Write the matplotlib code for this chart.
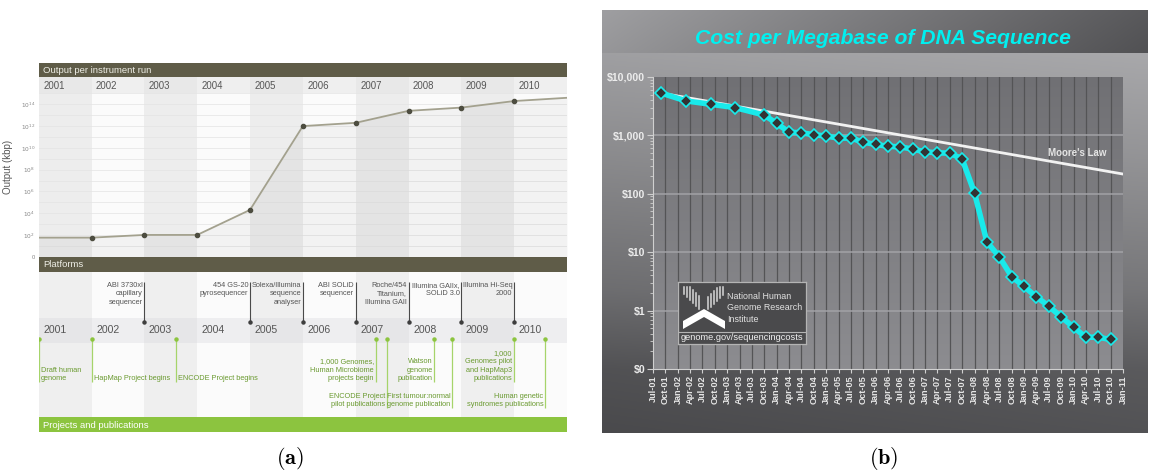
import numpy as np
import pandas as pd
import matplotlib
matplotlib.use("Agg")
import matplotlib.pyplot as plt
from matplotlib.patches import Rectangle, Polygon

plt.rcParams["font.family"] = ["Liberation Sans", "DejaVu Sans"]

W, H = 1150, 473

# ---------------- (a) data ----------------
YEARS = list(range(2001, 2011))
run_years = [2001, 2002, 2003, 2004, 2005, 2006, 2007, 2008, 2009, 2010, 2011]
run_log_kbp = [1.75, 1.75, 2.0, 2.0, 4.3, 12.0, 12.3, 13.4, 13.7, 14.3, 14.6]
marker_years = run_years[1:-1]
marker_log_kbp = run_log_kbp[1:-1]

platform_years = [2003, 2005, 2006, 2007, 2008, 2009, 2010]
platform_labels = [
    "ABI 3730xl\ncapillary\nsequencer",
    "454 GS-20\npyrosequencer",
    "Solexa/Illumina\nsequence\nanalyser",
    "ABI SOLiD\nsequencer",
    "Roche/454\nTitanium,\nIllumina GAII",
    "Illumina GAIIx,\nSOLiD 3.0",
    "Illumina Hi-Seq\n2000",
]

project_years = [2001.0, 2002.0, 2003.6, 2007.38, 2007.59, 2008.49, 2008.83, 2010.0, 2010.59]
project_labels = [
    "Draft human\ngenome",
    "HapMap Project begins",
    "ENCODE Project begins",
    "1,000 Genomes,\nHuman Microbiome\nprojects begin",
    "ENCODE Project\npilot publications",
    "Watson\ngenome\npublication",
    "First tumour:normal\ngenome publication",
    "1,000\nGenomes pilot\nand HapMap3\npublications",
    "Human genetic\nsyndromes publications",
]
project_side = ["right", "right", "right", "left", "left", "left", "left", "left", "left"]
project_tier = [0, 0, 0, 0, 1, 0, 1, 0, 1]

# ---------------- (b) data ----------------
cost_dates = [
    "2001-09", "2002-03", "2002-09", "2003-03", "2003-10",
    "2004-01", "2004-04", "2004-07", "2004-10",
    "2005-01", "2005-04", "2005-07", "2005-10",
    "2006-01", "2006-04", "2006-07", "2006-10",
    "2007-01", "2007-04", "2007-07", "2007-10",
    "2008-01", "2008-04", "2008-07", "2008-10",
    "2009-01", "2009-04", "2009-07", "2009-10",
    "2010-01", "2010-04", "2010-07", "2010-10",
]
cost_per_mb = [
    5292, 3899, 3414, 2986, 2231,
    1599, 1136, 1107, 1029,
    974, 898, 899, 767,
    699, 652, 636, 582,
    523, 503, 496, 397,
    102, 15.0, 8.36, 3.81,
    2.59, 1.72, 1.20, 0.78,
    0.52, 0.35, 0.35, 0.32,
]
moore_dates = ["2001-09", "2011-01"]
moore_cost = [5292, 218]

OLIVE = "#5f5c48"
GREEN = "#8cc43f"


def px_axes(fig, x0, y0, x1, y1, **kw):
    return fig.add_axes([x0 / W, 1 - y1 / H, (x1 - x0) / W, (y1 - y0) / H], **kw)


fig = plt.figure(figsize=(W / 100, H / 100), dpi=100)

# =============== panel (a) ===============
A_L, A_R = 38.7, 567
ax_a = px_axes(fig, A_L, 62.7, A_R, 432.3)
ax_a.set_xlim(2001, 2011)
ax_a.set_ylim(432.3, 62.7)
ax_a.axis("off")

sections = [
    (77.3, 93, "#e8e8e8", "#efefef"),
    (93, 256.7, "#ededed", "#fbfbfb"),
    (272.3, 317.7, "#efefef", "#fbfbfb"),
    (317.7, 343.3, "#e6e6e8", "#eeeef0"),
    (343.3, 417.3, "#efefef", "#fbfbfb"),
]
for y0, y1, odd_c, even_c in sections:
    for yr in YEARS:
        c = odd_c if yr % 2 == 1 else even_c
        ax_a.add_patch(Rectangle((yr, y0), 1, y1 - y0, color=c, lw=0))

for y0, y1, c, txt, tc in [(62.7, 77.3, OLIVE, "Output per instrument run", "#eeeee6"),
                           (256.7, 272.3, OLIVE, "Platforms", "#eeeee6"),
                           (417.3, 432.3, GREEN, "Projects and publications", "white")]:
    ax_a.add_patch(Rectangle((2001, y0), 10, y1 - y0, color=c, lw=0))
    ax_a.text(2001 + 4.5 / 52.83, (y0 + y1) / 2 + 0.5, txt, color=tc, fontsize=6.8,
              va="center", ha="left")

for yr in YEARS:
    ax_a.text(yr + 4.5 / 52.83, 86.0, str(yr), fontsize=6.9, color="#555555", va="center")
    ax_a.text(yr + 4.5 / 52.83, 330.3, str(yr), fontsize=7.6, color="#555555", va="center")

dx = 1.8 / 52.83
for yr, lab in zip(platform_years, platform_labels):
    ax_a.plot([yr, yr], [282.5, 322.3], color="#4a4a4a", lw=0.8, solid_capstyle="butt")
    ax_a.plot(yr, 322.3, "o", color="#3e3e3e", ms=2.2)
    ax_a.text(yr - dx, 281.6, lab, ha="right", va="top", multialignment="right",
              fontsize=5.3, color="#555555", linespacing=1.32)

tier_bottom = [382.5, 408.5]
for yr, lab, side, tier in zip(project_years, project_labels, project_side, project_tier):
    yb = tier_bottom[tier]
    ax_a.plot([yr, yr], [339, yb], color="#a6d46a", lw=0.9, solid_capstyle="butt")
    ax_a.plot(yr, 339, "o", color=GREEN, ms=2.2)
    if side == "right":
        ax_a.text(yr + 2.2 / 52.83, yb, lab, ha="left", va="bottom", multialignment="left",
                  fontsize=5.3, color="#6a9a30", linespacing=1.32)
    else:
        ax_a.text(yr - dx, yb, lab, ha="right", va="bottom", multialignment="right",
                  fontsize=5.3, color="#6a9a30", linespacing=1.32)

# chart of output per run
ax_c = px_axes(fig, A_L, 93, A_R, 256.7)
ax_c.set_facecolor("none")
ax_c.set_yscale("log")
ax_c.set_xlim(2001, 2011)
ax_c.set_ylim(1, 10 ** 15.04)
for d in range(1, 16):
    ax_c.axhline(10.0 ** d, color="#e3e3e3", lw=0.5, zorder=1)
kbp = [10.0 ** e for e in run_log_kbp]
ax_c.fill_between(run_years, 1, kbp, color="black", alpha=0.035, lw=0, zorder=1)
ax_c.plot(run_years, kbp, color="#a3a18e", lw=1.3, zorder=3)
ax_c.plot(marker_years, [10.0 ** e for e in marker_log_kbp], "o", color="#4d4d40",
          ms=3, zorder=4)
ticks = [10.0 ** d for d in range(0, 15, 2)]
ax_c.set_yticks(ticks)
ax_c.set_yticklabels(["0"] + [r"$10^{%d}$" % d for d in range(2, 15, 2)])
ax_c.yaxis.set_minor_locator(plt.NullLocator())
ax_c.tick_params(axis="y", length=0, pad=2.5, labelsize=4.2, labelcolor="#888888")
for t in ax_c.get_yticklabels():
    t.set_math_fontfamily("dejavusans")
ax_c.set_xticks([])
for s in ax_c.spines.values():
    s.set_visible(False)
ax_c.set_ylabel("Output (kbp)", fontsize=7, color="#555555")
ax_c.yaxis.set_label_coords(-(A_L - 13) / (A_R - A_L), 0.548)

# =============== panel (b) ===============
BX0, BY0, BX1, BY1 = 602, 10, 1148, 432.7
ax_bg = px_axes(fig, BX0, BY0, BX1, BY1)
ax_bg.set_xlim(0, BX1 - BX0)
ax_bg.set_ylim(BY1 - BY0, 0)
ax_bg.axis("off")
ys = np.linspace(43, BY1 - BY0, 200)
vcol = np.interp(ys, [43, 140, 280, 360, 423], [0.645, 0.57, 0.45, 0.34, 0.31])
xs = np.linspace(0, 1, 120)
body = vcol[:, None] + 0.035 * (xs[None, :] - 0.6)
ax_bg.imshow(np.dstack([body, body, body + 0.01]), extent=[0, BX1 - BX0, BY1 - BY0, 43],
             aspect="auto", interpolation="bilinear", zorder=0)
banner = np.linspace(0.61, 0.34, 120)[None, :] + np.linspace(0.01, -0.02, 20)[:, None]
ax_bg.imshow(np.dstack([banner, banner, banner + 0.01]), extent=[0, BX1 - BX0, 43, 0],
             aspect="auto", interpolation="bilinear", zorder=0)
ax_bg.set_xlim(0, BX1 - BX0)
ax_bg.set_ylim(BY1 - BY0, 0)

fig.text(883 / W, 1 - 38 / H, "Cost per Megabase of DNA Sequence", ha="center", va="center",
         fontsize=15.2, fontweight="bold", style="italic", color="#00f0f0")

P = (653, 77, 1123, 369)
ax_pbg = px_axes(fig, *P)
pg = np.linspace(0.44, 0.55, 100)[:, None] * np.ones((1, 10))
ax_pbg.imshow(np.dstack([pg, pg, pg + 0.015]), extent=[0, 1, 0, 1], aspect="auto",
              interpolation="bilinear")
ax_pbg.axis("off")

ax_b = px_axes(fig, *P)
ax_b.set_facecolor("none")
ax_b.set_yscale("log")
x_start, x_end = pd.Timestamp("2001-07-01"), pd.Timestamp("2011-01-01")
quarters = pd.date_range(x_start, x_end, freq="QS")
ax_b.set_xlim(x_start, x_end)
ax_b.set_ylim(0.1, 10000)
for q in quarters[1:-1]:
    ax_b.axvline(q, color="#545456", lw=0.9, zorder=1)
for d in [1, 10, 100, 1000]:
    ax_b.axhline(d, color="#a2a2a6", lw=1.1, zorder=1)

ax_b.plot(pd.to_datetime(moore_dates), moore_cost, color="#f2f2f2", lw=2, zorder=2)
ax_b.plot(pd.to_datetime(cost_dates), cost_per_mb, color="#19eaea", lw=4, zorder=3,
          marker="D", ms=6.5, mfc="#333333", mec="#19eaea", mew=1.2)
ax_b.text(0.902, 0.741, "Moore's Law", transform=ax_b.transAxes, ha="center", va="center",
          fontsize=7, fontweight="bold", color="#e4e4e4")

ax_b.set_yticks([0.1, 1, 10, 100, 1000, 10000])
ax_b.set_yticklabels(["$0", "$1", "$10", "$100", "$1,000", "$10,000"])
ax_b.set_xticks(quarters)
ax_b.set_xticklabels([q.strftime("%b-%y") for q in quarters], rotation=90)
ax_b.tick_params(axis="y", which="major", length=4, color="#d0d0d0", labelsize=7.6,
                 labelcolor="#ececec", pad=1.5)
ax_b.tick_params(axis="y", which="minor", length=2, color="#d0d0d0")
ax_b.yaxis.set_minor_formatter(plt.NullFormatter())
ax_b.tick_params(axis="x", length=3, color="#d0d0d0", labelsize=6.6, labelcolor="#e6e6e6",
                 pad=1.5)
for t in ax_b.get_xticklabels() + ax_b.get_yticklabels():
    t.set_fontweight("bold")
for side in ["top", "right"]:
    ax_b.spines[side].set_visible(False)
ax_b.spines["left"].set_color("#d0d0d0")
ax_b.spines["bottom"].set_color("#d0d0d0")

# NHGRI logo box
ax_l = px_axes(fig, 678, 282, 806, 344)
ax_l.set_xlim(0, 128)
ax_l.set_ylim(62, 0)
ax_l.set_facecolor("#4a4a4c")
ax_l.set_xticks([])
ax_l.set_yticks([])
for s in ax_l.spines.values():
    s.set_color("#b4b4b4")
    s.set_linewidth(0.9)
ax_l.axhline(49.7, color="#b4b4b4", lw=0.8)
for i, line in enumerate(["National Human", "Genome Research", "Institute"]):
    ax_l.text(49.5, 14.7 + 11.2 * i, line, fontsize=6.4, color="#e2e2e2", va="center")
ax_l.text(64, 55.8, "genome.gov/sequencingcosts", fontsize=6.7, color="#f0f0f0",
          va="center", ha="center")
for i in range(14):
    x = 6 + i * 3
    yc = 6 + (x - 6) if x < 26 else 6 + (46 - x)
    if abs(x - 26) > 2:
        ax_l.plot([x, x], [max(yc - 7, 5), min(yc + 6, 27)], color="#d8d8d8", lw=1.1)
ax_l.add_patch(Polygon([(5, 39), (26, 27), (47, 39), (47, 47), (26, 35), (5, 47)],
                       closed=True, color="white", lw=0))

# panel labels
fig.text(290 / W, 1 - 458 / H, r"$\mathbf{(a)}$", ha="center", va="center", fontsize=16,
         math_fontfamily="cm")
fig.text(884 / W, 1 - 458 / H, r"$\mathbf{(b)}$", ha="center", va="center", fontsize=16,
         math_fontfamily="cm")

fig.savefig("out.png", dpi=100)
